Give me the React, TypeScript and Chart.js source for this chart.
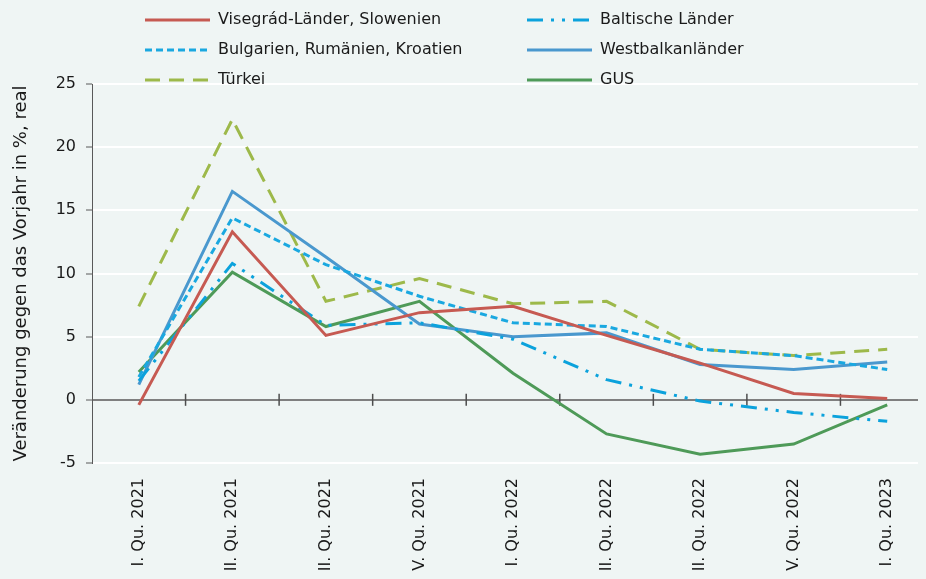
import React, { useEffect, useRef } from "react";
import { Chart, registerables } from "chart.js";

Chart.register(...registerables);

const categories = [
  "I. Qu. 2021",
  "II. Qu. 2021",
  "III. Qu. 2021",
  "IV. Qu. 2021",
  "I. Qu. 2022",
  "II. Qu. 2022",
  "III. Qu. 2022",
  "IV. Qu. 2022",
  "I. Qu. 2023",
];

const visegrad = [-0.4, 13.3, 5.1, 6.9, 7.4, 5.1, 2.9, 0.5, 0.1];
const baltisch = [1.5, 10.8, 5.9, 6.1, 4.8, 1.6, -0.1, -1.0, -1.7];
const bulgarien = [1.8, 14.4, 10.7, 8.2, 6.1, 5.8, 4.0, 3.5, 2.4];
const westbalkan = [1.2, 16.5, 11.3, 6.0, 5.0, 5.3, 2.8, 2.4, 3.0];
const tuerkei = [7.4, 22.2, 7.8, 9.6, 7.6, 7.8, 4.0, 3.5, 4.0];
const gus = [2.2, 10.1, 5.8, 7.8, 2.1, -2.7, -4.3, -3.5, -0.4];

const seriesLabels = [
  "Visegrád-Länder, Slowenien",
  "Baltische Länder",
  "Bulgarien, Rumänien, Kroatien",
  "Westbalkanländer",
  "Türkei",
  "GUS",
];

const yMin = -5;
const yMax = 25;
const yStep = 5;
const yTitle = "Veränderung gegen das Vorjahr in %, real";

const BG = "#EFF5F4";
const FONT = "'DejaVu Sans', sans-serif";
const TEXT = "#1a1a1a";

const W = 934;
const H = 600;
const AREA_LEFT = 92;
const AREA_TOP = 84;
const AREA_BOTTOM = 463;

const LEGEND_COL_X = [145, 527];
const LEGEND_ROW_Y = [20, 50, 80];

const legendPlugin = {
  id: "customLegend",
  afterDraw(chart: any) {
    const ctx = chart.ctx;
    chart.data.datasets.forEach((ds: any, i: number) => {
      const col = i % 2;
      const row = Math.floor(i / 2);
      const x0 = LEGEND_COL_X[col];
      const y = LEGEND_ROW_Y[row];
      ctx.save();
      ctx.strokeStyle = ds.borderColor;
      ctx.lineWidth = ds.borderWidth;
      ctx.setLineDash(ds.borderDash || []);
      ctx.beginPath();
      ctx.moveTo(x0, y);
      ctx.lineTo(x0 + 65, y);
      ctx.stroke();
      ctx.setLineDash([]);
      ctx.fillStyle = TEXT;
      ctx.font = `16px ${FONT}`;
      ctx.textBaseline = "middle";
      ctx.textAlign = "left";
      ctx.fillText(ds.label, x0 + 73, y);
      ctx.restore();
    });
  },
};

const boundaryTicksPlugin = {
  id: "boundaryTicks",
  beforeDatasetsDraw(chart: any) {
    const ctx = chart.ctx;
    const xs = chart.scales.x;
    const ys = chart.scales.y;
    const y0 = ys.getPixelForValue(0);
    const n = categories.length;
    ctx.save();
    ctx.strokeStyle = "#4d4d4d";
    ctx.lineWidth = 1.5;
    for (let i = 0; i < n; i++) {
      const a = xs.getPixelForValue(i);
      const b = i + 1 < n ? xs.getPixelForValue(i + 1) : a + (a - xs.getPixelForValue(i - 1));
      const xb = (a + b) / 2;
      ctx.beginPath();
      ctx.moveTo(xb, y0 - 6);
      ctx.lineTo(xb, y0 + 6);
      ctx.stroke();
    }
    ctx.restore();
  },
};

export default function App() {
  const ref = useRef<HTMLCanvasElement>(null);

  useEffect(() => {
    document.body.style.background = BG;
    const canvas = ref.current;
    if (!canvas) return;
    const mk = (label: string, data: number[], color: string, dash: number[]) => ({
      label,
      data,
      borderColor: color,
      backgroundColor: color,
      borderWidth: 3,
      borderDash: dash,
      pointRadius: 0,
      tension: 0,
      fill: false,
    });
    const chart = new Chart(canvas, {
      type: "line",
      data: {
        labels: categories,
        datasets: [
          mk(seriesLabels[0], visegrad, "#C65A52", []),
          mk(seriesLabels[1], baltisch, "#0BA2DC", [16, 8, 3, 8, 3, 8]),
          mk(seriesLabels[2], bulgarien, "#1AA8E0", [7, 4]),
          mk(seriesLabels[3], westbalkan, "#4A98CE", []),
          mk(seriesLabels[4], tuerkei, "#9DB94A", [15, 9]),
          mk(seriesLabels[5], gus, "#4E9A58", []),
        ],
      },
      options: {
        responsive: false,
        animation: false,
        layout: { padding: { top: AREA_TOP, left: 0, right: 0, bottom: 0 } },
        plugins: {
          legend: { display: false },
          tooltip: { enabled: false },
          title: { display: false },
        },
        scales: {
          x: {
            offset: true,
            grid: { display: false, drawTicks: false },
            border: { display: false },
            ticks: {
              autoSkip: false,
              minRotation: 90,
              maxRotation: 90,
              padding: 15,
              color: TEXT,
              font: { family: FONT, size: 16 },
            },
            afterFit(scale: any) {
              scale.height = H - AREA_BOTTOM;
            },
          },
          y: {
            min: yMin,
            max: yMax,
            ticks: {
              stepSize: yStep,
              padding: 10,
              color: TEXT,
              font: { family: FONT, size: 16 },
            },
            grid: {
              color: (c: any) => (c.tick && c.tick.value === 0 ? "#7f7f7f" : "#ffffff"),
              lineWidth: 2,
              tickColor: "#595959",
              tickLength: 6,
              tickWidth: 1,
            },
            border: { display: true, color: "#595959", width: 1 },
            title: {
              display: true,
              text: yTitle,
              color: TEXT,
              font: { family: FONT, size: 18 },
              padding: { top: 11, bottom: 0 },
            },
            afterFit(scale: any) {
              scale.width = AREA_LEFT;
            },
          },
        },
      },
      plugins: [legendPlugin, boundaryTicksPlugin],
    } as any);
    return () => chart.destroy();
  }, []);

  return (
    <div
      style={{
        margin: -8,
        width: 926,
        height: 579,
        overflow: "hidden",
        position: "relative",
        background: BG,
      }}
    >
      <canvas ref={ref} width={W} height={H} style={{ width: W, height: H, display: "block" }} />
    </div>
  );
}
